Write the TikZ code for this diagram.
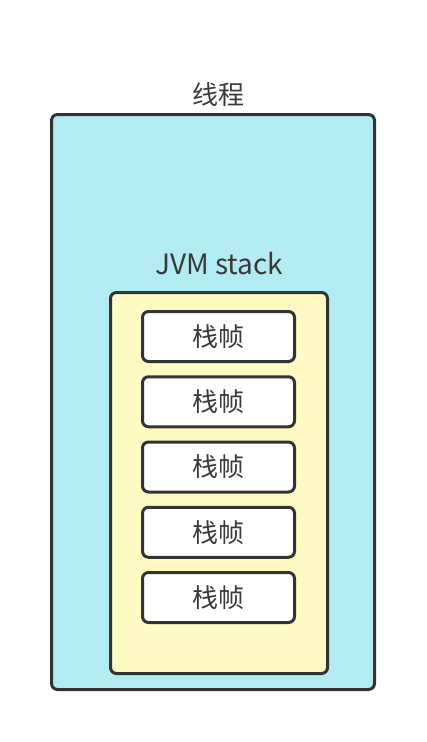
\documentclass[tikz,border=0pt]{standalone}
\usepackage{fontspec}
\newfontfamily\cjk{Noto Sans CJK SC}
\usetikzlibrary{positioning}
\definecolor{threadfill}{HTML}{B2EBF2}
\definecolor{stackfill}{HTML}{FFF9C4}
\definecolor{edgegray}{HTML}{333333}
\definecolor{textgray}{HTML}{3A3A3A}
\tikzset{
  jvm box/.style={draw=edgegray,line width=3pt,rounded corners=6pt,inner sep=0pt,outer sep=0pt},
  jvm thread/.style={jvm box,fill=threadfill,minimum width=323pt,minimum height=575pt},
  jvm stack/.style={jvm box,fill=stackfill,minimum width=217pt,minimum height=381pt},
  jvm frame/.style={jvm box,fill=white,minimum width=152pt,minimum height=50pt,
    font=\cjk\fontsize{26}{30}\selectfont,text=textgray},
  jvm title/.style={font=\cjk\fontsize{26}{30}\selectfont,text=textgray,inner sep=0pt}
}
\begin{document}
\begin{tikzpicture}[x=1pt,y=-1pt]
  \useasboundingbox (0,0) rectangle (426,742);
  \node[jvm thread] (thread) at (213,402) {};
  \node[jvm title] (threadlabel) at (218,95) {线程};
  \node[jvm stack] (stack) at (219,483) {};
  \node[jvm title,font=\cjk\fontsize{28}{32}\selectfont] (stacklabel) at (219,264) {JVM stack};

  % five frames, stacked from the top of the stack box
  \node[jvm frame] (f1) at (218.5,336.5) {栈帧};
  \node[jvm frame,below=15.25pt of f1] (f2) {栈帧};
  \node[jvm frame,below=15.25pt of f2] (f3) {栈帧};
  \node[jvm frame,below=15.25pt of f3] (f4) {栈帧};
  \node[jvm frame,below=15.25pt of f4] (f5) {栈帧};
\end{tikzpicture}
\end{document}
